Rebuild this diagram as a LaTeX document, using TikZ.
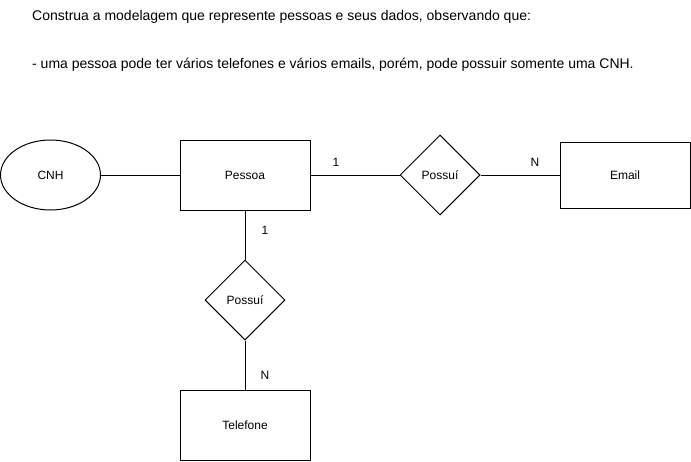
\documentclass[tikz,border=0pt]{standalone}
\usepackage{fontspec}
\setmainfont{Liberation Sans}
\usetikzlibrary{shapes.geometric}
\begin{document}
\begin{tikzpicture}[x=1pt,y=-1pt,
  ent/.style={draw,line width=1pt,minimum width=130pt,minimum height=70pt,inner sep=0pt,font=\fontsize{12}{14}\selectfont},
  rel/.style={draw,line width=1pt,diamond,minimum width=80pt,minimum height=80pt,inner sep=0pt,font=\fontsize{12}{14}\selectfont},
  attr/.style={draw,line width=1pt,ellipse,minimum width=100pt,minimum height=70pt,inner sep=0pt,font=\fontsize{12}{14}\selectfont},
  lbl/.style={inner sep=0pt,font=\fontsize{12}{14}\selectfont},
  txt/.style={inner sep=0pt,anchor=west,font=\fontsize{14}{16}\selectfont},
  conn/.style={draw,line width=1pt}]
\useasboundingbox (0,0) rectangle (691,461);
\node[txt] (t1) at (32,17) {Construa a modelagem que represente pessoas e seus dados, observando que:};
\node[txt] (t2) at (32,65) {- uma pessoa pode ter vários telefones e vários emails, porém, pode possuir somente uma CNH.};
\node[attr] (cnh) at (50.5,175) {CNH};
\node[ent] (pessoa) at (245,175) {Pessoa};
\node[rel] (r1) at (440,175) {Possuí};
\node[ent,minimum height=66pt] (email) at (625,175) {Email};
\node[rel] (r2) at (245,300) {Possuí};
\node[ent] (tel) at (245,425) {Telefone};
\draw[conn] (cnh) -- (pessoa);
\draw[conn] (pessoa) -- (r1);
\draw[conn] (r1) -- (email);
\draw[conn] (pessoa) -- (r2);
\draw[conn] (r2) -- (tel);
\node[lbl] (l1) at (336,162) {1};
\node[lbl] (l2) at (535,162) {N};
\node[lbl] (l3) at (265,230) {1};
\node[lbl] (l4) at (265,375) {N};
\end{tikzpicture}
\end{document}
